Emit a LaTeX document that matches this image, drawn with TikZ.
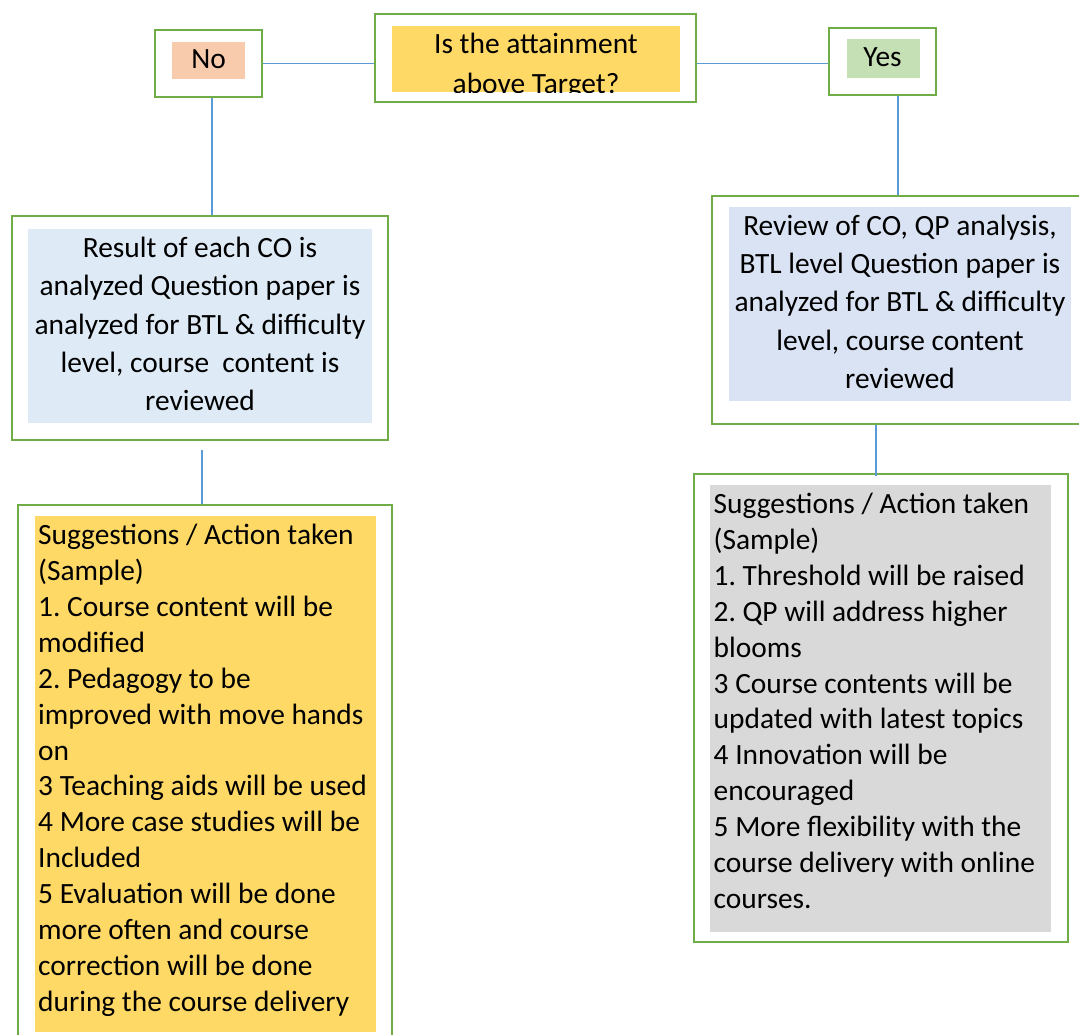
\documentclass[tikz,border=0pt]{standalone}
\usepackage{fontspec}
\setmainfont{Carlito}
\frenchspacing
\definecolor{frameGreen}{HTML}{70AD47}
\definecolor{linkBlue}{HTML}{5B9BD5}
\definecolor{noFill}{HTML}{F8CBAD}
\definecolor{yesFill}{HTML}{C5E0B4}
\definecolor{goldFill}{HTML}{FFD966}
\definecolor{leftBlue}{HTML}{DEEBF7}
\definecolor{rightBlue}{HTML}{DAE3F3}
\definecolor{greyFill}{HTML}{D9D9D9}
\newcommand\listfont{\fontsize{29.4}{35.9}\selectfont}
\newcommand\parafont{\fontsize{29.4}{38.3}\selectfont}
\newcommand\askfont{\fontsize{29.4}{40}\selectfont}
\begin{document}
\begin{tikzpicture}[x=1pt,y=-1pt,
  framebox/.style={draw=frameGreen, line width=2.8pt, fill=white, rectangle, inner sep=0pt},
  fillbox/.style={draw=none, rectangle, inner sep=0pt},
  link/.style={draw=linkBlue, line width=1.4pt},
  label/.style={inner sep=0pt, font=\listfont},
  listtext/.style={inner sep=0pt, anchor=north west, align=left, font=\listfont},
  paratext/.style={inner sep=0pt, anchor=north, align=center, font=\parafont}]
\useasboundingbox (0,0) rectangle (1079,1035);
\clip (0,0) rectangle (1079,1035);

% outer frames
\node[framebox, minimum width=107pt, minimum height=67pt] (no)   at (208.5,63.5) {};
\node[framebox, minimum width=321pt, minimum height=88pt] (q)    at (535.5,58) {};
\node[framebox, minimum width=107pt, minimum height=67pt] (yes)  at (882.5,61.5) {};
\node[framebox, minimum width=376pt, minimum height=224pt] (lmid) at (200,328) {};
\node[framebox, minimum width=376pt, minimum height=228pt] (rmid) at (900,310) {};
\node[framebox, minimum width=374pt, minimum height=540pt] (lact) at (205,775) {};
\node[framebox, minimum width=374pt, minimum height=468pt] (ract) at (881,708) {};

% coloured panels inside the frames
\node[fillbox, fill=noFill, minimum width=73pt, minimum height=37pt]   (nofill)   at (208.5,60.5) {};
\node[fillbox, fill=goldFill, minimum width=288pt, minimum height=66pt] (qfill)   at (536,59) {};
\node[fillbox, fill=yesFill, minimum width=73pt, minimum height=39pt]  (yesfill)  at (883,59) {};
\node[fillbox, fill=leftBlue, minimum width=344pt, minimum height=194pt] (lmidfill) at (200,326) {};
\node[fillbox, fill=rightBlue, minimum width=342pt, minimum height=194pt] (rmidfill) at (900,304) {};
\node[fillbox, fill=goldFill, minimum width=341pt, minimum height=516pt] (lactfill) at (205.5,774) {};
\node[fillbox, fill=greyFill, minimum width=341pt, minimum height=447pt] (ractfill) at (880.5,708.5) {};

% connectors
\draw[link] (no.east) -- (no.east -| q.west);
\draw[link] (q.east |- no.east) -- (yes.west |- no.east);
\draw[link] ([xshift=3.5pt]no.south) -- ([xshift=3.5pt]no.south |- lmid.north);
\draw[link] ([xshift=15.5pt]yes.south) -- ([xshift=15.5pt]yes.south |- rmid.north);
\draw[link] ([xshift=2pt,yshift=-9pt]lmid.south) -- ([xshift=2pt]lmid.south |- lact.north);
\draw[link] ([xshift=-24pt]rmid.south) -- ([xshift=-24pt,yshift=-3pt]rmid.south |- ract.north);

% texts
\node[label, anchor=base] (notext)  at (208.5,68.3) {No};
\node[label, anchor=base] (yestext) at (882.5,66.7) {Yes};
\begin{scope}
  \clip (qfill.north west) rectangle (qfill.south east);
  \node[inner sep=0pt, anchor=north, align=center, font=\askfont] (qtext) at (536,25.3)
    {\strut Is the attainment\\above Target?};
\end{scope}
\node[paratext] (lmidtext) at (200,230.5)
  {\strut Result of each CO is\\analyzed Question paper is\\analyzed for BTL \& difficulty\\level, course\ \ content is\\reviewed};
\node[paratext] (rmidtext) at (900,208.2)
  {\strut Review of CO, QP analysis,\\BTL level Question paper is\\analyzed for BTL \& difficulty\\level, course content\\reviewed};
\node[listtext] (lacttext) at (38,519.3)
  {\strut Suggestions / Action taken\\(Sample)\\1. Course content will be\\modified\\2. Pedagogy to be\\improved with move hands\\on\\3 Teaching aids will be used\\4 More case studies will be\\Included\\5 Evaluation will be done\\more often and course\\correction will be done\\during the course delivery};
\node[listtext] (racttext) at (713.5,488.2)
  {\strut Suggestions / Action taken\\(Sample)\\1. Threshold will be raised\\2. QP will address higher\\blooms\\3 Course contents will be\\updated with latest topics\\4 Innovation will be\\encouraged\\5 More flexibility with the\\course delivery with online\\courses.};
\end{tikzpicture}
\end{document}
